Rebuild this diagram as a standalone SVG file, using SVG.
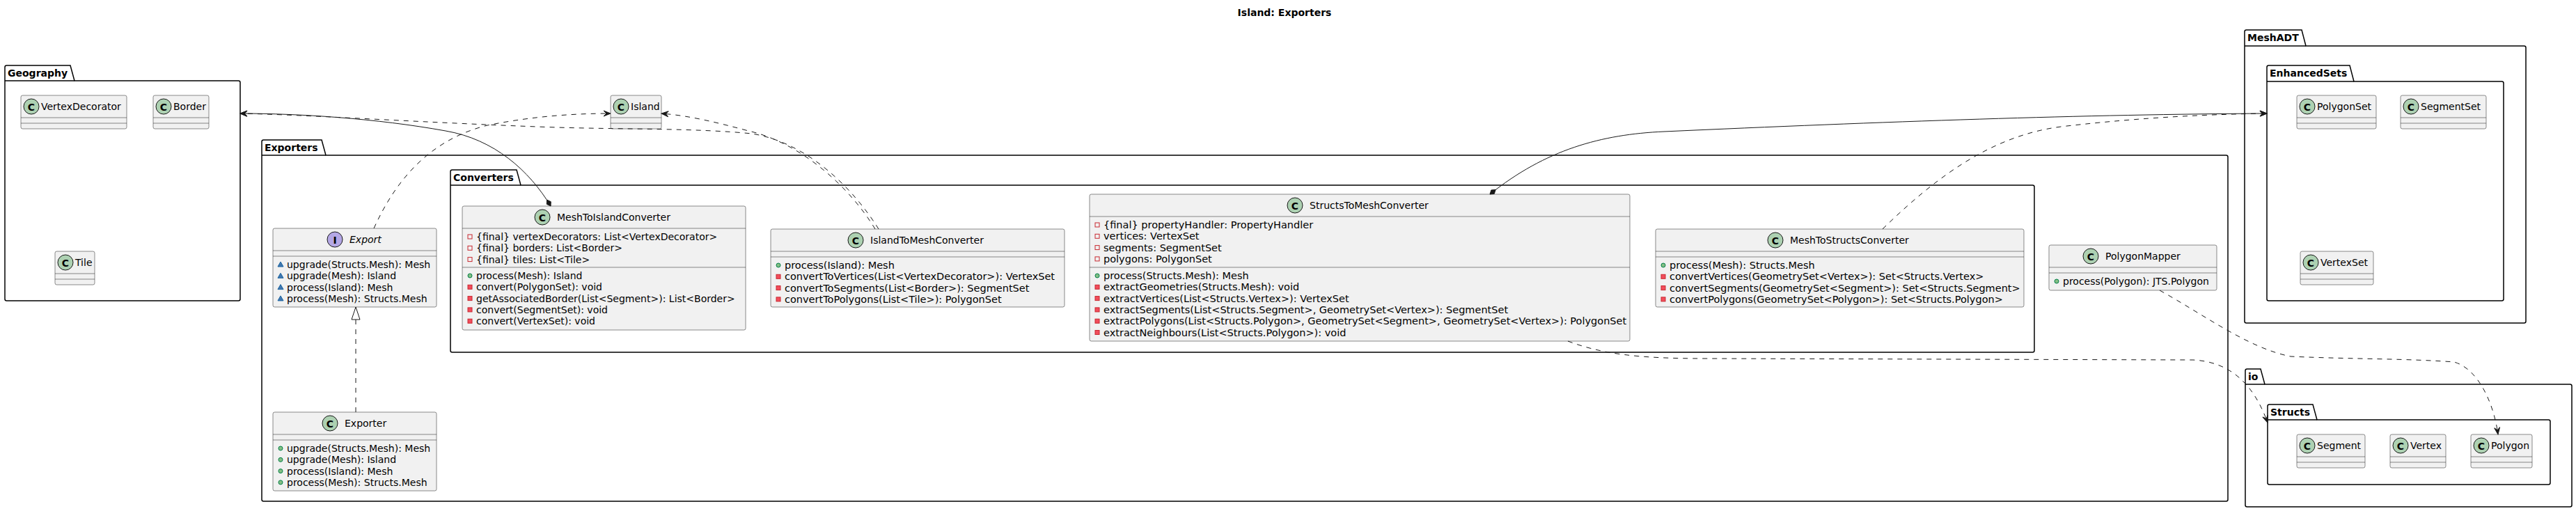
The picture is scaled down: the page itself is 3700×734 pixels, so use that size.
<svg xmlns="http://www.w3.org/2000/svg" width="3700" height="734" viewBox="0 0 3700 734">
<style>
.t{font-family:"DejaVu Sans","Liberation Sans",sans-serif;font-size:14px;fill:#000000}
.w{font-size:14.5px}
.b{font-weight:bold}
.it{font-style:italic}
.ic{font-family:"DejaVu Sans","Liberation Sans",sans-serif;font-size:14px;font-weight:bold;fill:#000000;text-anchor:middle}
.pkg{fill:none;stroke:#000000;stroke-width:1.5}
.cls{fill:#F1F1F1;stroke:#181818;stroke-width:0.5}
.dv{stroke:#181818;stroke-width:0.5}
.ci{fill:#ADD1B2;stroke:#181818;stroke-width:1}
.ii{fill:#B4A7E5;stroke:#181818;stroke-width:1}
.fp{fill:none;stroke:#C82930;stroke-width:1}
.mp{fill:#F24D5C;stroke:#C82930;stroke-width:1}
.pu{fill:#84BE84;stroke:#038048;stroke-width:1}
.pk{fill:#4177AF;stroke:#1963A0;stroke-width:1}
.ln{fill:none;stroke:#181818;stroke-width:1}
.da{stroke-dasharray:7,7}
</style>
<defs>
<marker id="arr" markerUnits="userSpaceOnUse" markerWidth="14" markerHeight="12" viewBox="-12 -6 14 12" refX="0" refY="0" orient="auto" overflow="visible">
<path d="M0,0 L-10,-4 L-6,0 L-10,4 Z" fill="#181818" stroke="#181818" stroke-width="1"/>
</marker>
<marker id="dia" markerUnits="userSpaceOnUse" markerWidth="14" markerHeight="12" viewBox="-14 -6 16 12" refX="0" refY="0" orient="auto-start-reverse" overflow="visible">
<path d="M0,0 L-6,-4 L-12,0 L-6,4 Z" fill="#181818" stroke="#181818" stroke-width="1"/>
</marker>
</defs>
<rect width="3700" height="734" fill="#FFFFFF"/>
<text class="t b" x="1845" y="23" text-anchor="middle">Island: Exporters</text>

<g id="packages">
<g id="pkg-Geography">
<path class="pkg" d="M9.5,94 L101,94 L107,116 L342.5,116 Q345,116 345,118.5 L345,429.5 Q345,432 342.5,432 L9.5,432 Q7,432 7,429.5 L7,96.5 Q7,94 9.5,94 Z"/>
<line class="pkg" x1="7" y1="116" x2="107" y2="116"/>
<text class="t b" x="11" y="110">Geography</text>
</g>
<g id="pkg-Exporters">
<path class="pkg" d="M378.5,201 L462,201 L468,223 L3197.5,223 Q3200,223 3200,225.5 L3200,717.5 Q3200,720 3197.5,720 L378.5,720 Q376,720 376,717.5 L376,203.5 Q376,201 378.5,201 Z"/>
<line class="pkg" x1="376" y1="223" x2="468" y2="223"/>
<text class="t b" x="380" y="217">Exporters</text>
</g>
<g id="pkg-Converters">
<path class="pkg" d="M649.5,244 L742,244 L748,266 L2919.5,266 Q2922,266 2922,268.5 L2922,503.5 Q2922,506 2919.5,506 L649.5,506 Q647,506 647,503.5 L647,246.5 Q647,244 649.5,244 Z"/>
<line class="pkg" x1="647" y1="266" x2="748" y2="266"/>
<text class="t b" x="651" y="260">Converters</text>
</g>
<g id="pkg-MeshADT">
<path class="pkg" d="M3226.5,43 L3306,43 L3312,66 L3625.5,66 Q3628,66 3628,68.5 L3628,461.5 Q3628,464 3625.5,464 L3226.5,464 Q3224,464 3224,461.5 L3224,45.5 Q3224,43 3226.5,43 Z"/>
<line class="pkg" x1="3224" y1="66" x2="3312" y2="66"/>
<text class="t b" x="3228" y="59">MeshADT</text>
</g>
<g id="pkg-EnhancedSets">
<path class="pkg" d="M3258.5,94 L3375,94 L3381,117 L3593.5,117 Q3596,117 3596,119.5 L3596,429.5 Q3596,432 3593.5,432 L3258.5,432 Q3256,432 3256,429.5 L3256,96.5 Q3256,94 3258.5,94 Z"/>
<line class="pkg" x1="3256" y1="117" x2="3381" y2="117"/>
<text class="t b" x="3260" y="110">EnhancedSets</text>
</g>
<g id="pkg-io">
<path class="pkg" d="M3227.5,530 L3247,530 L3253,552 L3691.5,552 Q3694,552 3694,554.5 L3694,725.5 Q3694,728 3691.5,728 L3227.5,728 Q3225,728 3225,725.5 L3225,532.5 Q3225,530 3227.5,530 Z"/>
<line class="pkg" x1="3225" y1="552" x2="3253" y2="552"/>
<text class="t b" x="3229" y="546">io</text>
</g>
<g id="pkg-Structs">
<path class="pkg" d="M3259.5,581 L3322,581 L3328,603 L3660.5,603 Q3663,603 3663,605.5 L3663,693.5 Q3663,696 3660.5,696 L3259.5,696 Q3257,696 3257,693.5 L3257,583.5 Q3257,581 3259.5,581 Z"/>
<line class="pkg" x1="3257" y1="603" x2="3328" y2="603"/>
<text class="t b" x="3261" y="597">Structs</text>
</g>
</g>

<g id="VertexDecorator">
<rect class="cls" x="30" y="137" width="152" height="48" rx="2.5"/>
<circle class="ci" cx="45" cy="153" r="11"/><text class="ic" x="45" y="158.5">C</text>
<text class="t" x="59" y="158">VertexDecorator</text>
<line class="dv" x1="30" y1="169" x2="182" y2="169"/><line class="dv" x1="30" y1="177" x2="182" y2="177"/>
</g>
<g id="Border">
<rect class="cls" x="220" y="137" width="80" height="48" rx="2.5"/>
<circle class="ci" cx="235" cy="153" r="11"/><text class="ic" x="235" y="158.5">C</text>
<text class="t" x="249" y="158">Border</text>
<line class="dv" x1="220" y1="169" x2="300" y2="169"/><line class="dv" x1="220" y1="177" x2="300" y2="177"/>
</g>
<g id="Tile">
<rect class="cls" x="79" y="361" width="57" height="48" rx="2.5"/>
<circle class="ci" cx="94" cy="377" r="11"/><text class="ic" x="94" y="382.5">C</text>
<text class="t" x="108" y="382">Tile</text>
<line class="dv" x1="79" y1="393" x2="136" y2="393"/><line class="dv" x1="79" y1="401" x2="136" y2="401"/>
</g>
<g id="Island">
<rect class="cls" x="877" y="137" width="73" height="48" rx="2.5"/>
<circle class="ci" cx="892" cy="153" r="11"/><text class="ic" x="892" y="158.5">C</text>
<text class="t" x="906" y="158">Island</text>
<line class="dv" x1="877" y1="169" x2="950" y2="169"/><line class="dv" x1="877" y1="177" x2="950" y2="177"/>
</g>

<g id="Export">
<rect class="cls" x="392" y="328" width="235" height="113" rx="2.5"/>
<circle class="ii" cx="481" cy="344" r="11"/><text class="ic" x="481" y="349.5">I</text>
<text class="t it" x="502" y="349">Export</text>
<line class="dv" x1="392" y1="360" x2="627" y2="360"/><line class="dv" x1="392" y1="368" x2="627" y2="368"/>
<polygon class="pk" points="403,376 407,383 399,383"/><text class="t" x="412" y="385">upgrade(Structs.Mesh): Mesh</text>
<polygon class="pk" points="403,392.3 407,399.3 399,399.3"/><text class="t" x="412" y="401.3">upgrade(Mesh): Island</text>
<polygon class="pk" points="403,408.6 407,415.6 399,415.6"/><text class="t" x="412" y="417.6">process(Island): Mesh</text>
<polygon class="pk" points="403,424.9 407,431.9 399,431.9"/><text class="t" x="412" y="433.9">process(Mesh): Structs.Mesh</text>
</g>
<g id="Exporter">
<rect class="cls" x="392" y="592" width="235" height="113" rx="2.5"/>
<circle class="ci" cx="474" cy="608" r="11"/><text class="ic" x="474" y="613.5">C</text>
<text class="t" x="495" y="613">Exporter</text>
<line class="dv" x1="392" y1="624" x2="627" y2="624"/><line class="dv" x1="392" y1="632" x2="627" y2="632"/>
<circle class="pu" cx="403" cy="644" r="3"/><text class="t" x="412" y="649">upgrade(Structs.Mesh): Mesh</text>
<circle class="pu" cx="403" cy="660.3" r="3"/><text class="t" x="412" y="665.3">upgrade(Mesh): Island</text>
<circle class="pu" cx="403" cy="676.6" r="3"/><text class="t" x="412" y="681.6">process(Island): Mesh</text>
<circle class="pu" cx="403" cy="692.9" r="3"/><text class="t" x="412" y="697.9">process(Mesh): Structs.Mesh</text>
</g>

<g id="MeshToIslandConverter">
<rect class="cls" x="664" y="296" width="407" height="178" rx="2.5"/>
<circle class="ci" cx="779" cy="312" r="11"/><text class="ic" x="779" y="317.5">C</text>
<text class="t" x="800" y="317">MeshToIslandConverter</text>
<line class="dv" x1="664" y1="328" x2="1071" y2="328"/>
<rect class="fp" x="672" y="337" width="6" height="6"/><text class="t" x="684" y="345">{final} vertexDecorators: List&lt;VertexDecorator&gt;</text>
<rect class="fp" x="672" y="353.3" width="6" height="6"/><text class="t" x="684" y="361.3">{final} borders: List&lt;Border&gt;</text>
<rect class="fp" x="672" y="369.6" width="6" height="6"/><text class="t" x="684" y="377.6">{final} tiles: List&lt;Tile&gt;</text>
<line class="dv" x1="664" y1="384" x2="1071" y2="384"/>
<circle class="pu" cx="675" cy="396" r="3"/><text class="t" x="684" y="401">process(Mesh): Island</text>
<rect class="mp" x="672" y="409.3" width="6" height="6"/><text class="t" x="684" y="417.3">convert(PolygonSet): void</text>
<rect class="mp" x="672" y="425.6" width="6" height="6"/><text class="t" x="684" y="433.6">getAssociatedBorder(List&lt;Segment&gt;): List&lt;Border&gt;</text>
<rect class="mp" x="672" y="441.9" width="6" height="6"/><text class="t" x="684" y="449.9">convert(SegmentSet): void</text>
<rect class="mp" x="672" y="458.2" width="6" height="6"/><text class="t" x="684" y="466.2">convert(VertexSet): void</text>
</g>

<g id="IslandToMeshConverter">
<rect class="cls" x="1107" y="329" width="422" height="112" rx="2.5"/>
<circle class="ci" cx="1229" cy="345" r="11"/><text class="ic" x="1229" y="350.5">C</text>
<text class="t" x="1250" y="350">IslandToMeshConverter</text>
<line class="dv" x1="1107" y1="361" x2="1529" y2="361"/><line class="dv" x1="1107" y1="369" x2="1529" y2="369"/>
<circle class="pu" cx="1118" cy="381" r="3"/><text class="t w" x="1127" y="386">process(Island): Mesh</text>
<rect class="mp" x="1115" y="394.3" width="6" height="6"/><text class="t w" x="1127" y="402.3">convertToVertices(List&lt;VertexDecorator&gt;): VertexSet</text>
<rect class="mp" x="1115" y="410.6" width="6" height="6"/><text class="t w" x="1127" y="418.6">convertToSegments(List&lt;Border&gt;): SegmentSet</text>
<rect class="mp" x="1115" y="426.9" width="6" height="6"/><text class="t w" x="1127" y="434.9">convertToPolygons(List&lt;Tile&gt;): PolygonSet</text>
</g>

<g id="StructsToMeshConverter">
<rect class="cls" x="1565" y="279" width="776" height="211" rx="2.5"/>
<circle class="ci" cx="1860" cy="295" r="11"/><text class="ic" x="1860" y="300.5">C</text>
<text class="t" x="1881" y="300">StructsToMeshConverter</text>
<line class="dv" x1="1565" y1="311" x2="2341" y2="311"/>
<rect class="fp" x="1573" y="320" width="6" height="6"/><text class="t w" x="1585" y="328">{final} propertyHandler: PropertyHandler</text>
<rect class="fp" x="1573" y="336.3" width="6" height="6"/><text class="t w" x="1585" y="344.3">vertices: VertexSet</text>
<rect class="fp" x="1573" y="352.6" width="6" height="6"/><text class="t w" x="1585" y="360.6">segments: SegmentSet</text>
<rect class="fp" x="1573" y="368.9" width="6" height="6"/><text class="t w" x="1585" y="376.9">polygons: PolygonSet</text>
<line class="dv" x1="1565" y1="384" x2="2341" y2="384"/>
<circle class="pu" cx="1576" cy="396" r="3"/><text class="t w" x="1585" y="401">process(Structs.Mesh): Mesh</text>
<rect class="mp" x="1573" y="409.3" width="6" height="6"/><text class="t w" x="1585" y="417.3">extractGeometries(Structs.Mesh): void</text>
<rect class="mp" x="1573" y="425.6" width="6" height="6"/><text class="t w" x="1585" y="433.6">extractVertices(List&lt;Structs.Vertex&gt;): VertexSet</text>
<rect class="mp" x="1573" y="441.9" width="6" height="6"/><text class="t w" x="1585" y="449.9">extractSegments(List&lt;Structs.Segment&gt;, GeometrySet&lt;Vertex&gt;): SegmentSet</text>
<rect class="mp" x="1573" y="458.2" width="6" height="6"/><text class="t w" x="1585" y="466.2">extractPolygons(List&lt;Structs.Polygon&gt;, GeometrySet&lt;Segment&gt;, GeometrySet&lt;Vertex&gt;): PolygonSet</text>
<rect class="mp" x="1573" y="474.5" width="6" height="6"/><text class="t w" x="1585" y="482.5">extractNeighbours(List&lt;Structs.Polygon&gt;): void</text>
</g>

<g id="MeshToStructsConverter">
<rect class="cls" x="2378" y="329" width="529" height="112" rx="2.5"/>
<circle class="ci" cx="2550" cy="345" r="11"/><text class="ic" x="2550" y="350.5">C</text>
<text class="t" x="2571" y="350">MeshToStructsConverter</text>
<line class="dv" x1="2378" y1="361" x2="2907" y2="361"/><line class="dv" x1="2378" y1="369" x2="2907" y2="369"/>
<circle class="pu" cx="2389" cy="381" r="3"/><text class="t w" x="2398" y="386">process(Mesh): Structs.Mesh</text>
<rect class="mp" x="2386" y="394.3" width="6" height="6"/><text class="t w" x="2398" y="402.3">convertVertices(GeometrySet&lt;Vertex&gt;): Set&lt;Structs.Vertex&gt;</text>
<rect class="mp" x="2386" y="410.6" width="6" height="6"/><text class="t w" x="2398" y="418.6">convertSegments(GeometrySet&lt;Segment&gt;): Set&lt;Structs.Segment&gt;</text>
<rect class="mp" x="2386" y="426.9" width="6" height="6"/><text class="t w" x="2398" y="434.9">convertPolygons(GeometrySet&lt;Polygon&gt;): Set&lt;Structs.Polygon&gt;</text>
</g>

<g id="PolygonMapper">
<rect class="cls" x="2943" y="352" width="241" height="65" rx="2.5"/>
<circle class="ci" cx="3003" cy="368" r="11"/><text class="ic" x="3003" y="373.5">C</text>
<text class="t" x="3024" y="373">PolygonMapper</text>
<line class="dv" x1="2943" y1="384" x2="3184" y2="384"/><line class="dv" x1="2943" y1="392" x2="3184" y2="392"/>
<circle class="pu" cx="2954" cy="404" r="3"/><text class="t" x="2963" y="409">process(Polygon): JTS.Polygon</text>
</g>

<g id="PolygonSet">
<rect class="cls" x="3299" y="137" width="114" height="48" rx="2.5"/>
<circle class="ci" cx="3314" cy="153" r="11"/><text class="ic" x="3314" y="158.5">C</text>
<text class="t" x="3328" y="158">PolygonSet</text>
<line class="dv" x1="3299" y1="169" x2="3413" y2="169"/><line class="dv" x1="3299" y1="177" x2="3413" y2="177"/>
</g>
<g id="SegmentSet">
<rect class="cls" x="3448" y="137" width="123" height="48" rx="2.5"/>
<circle class="ci" cx="3463" cy="153" r="11"/><text class="ic" x="3463" y="158.5">C</text>
<text class="t" x="3477" y="158">SegmentSet</text>
<line class="dv" x1="3448" y1="169" x2="3571" y2="169"/><line class="dv" x1="3448" y1="177" x2="3571" y2="177"/>
</g>
<g id="VertexSet">
<rect class="cls" x="3304" y="361" width="105" height="48" rx="2.5"/>
<circle class="ci" cx="3319" cy="377" r="11"/><text class="ic" x="3319" y="382.5">C</text>
<text class="t" x="3333" y="382">VertexSet</text>
<line class="dv" x1="3304" y1="393" x2="3409" y2="393"/><line class="dv" x1="3304" y1="401" x2="3409" y2="401"/>
</g>
<g id="Segment">
<rect class="cls" x="3299" y="624" width="98" height="48" rx="2.5"/>
<circle class="ci" cx="3314" cy="640" r="11"/><text class="ic" x="3314" y="645.5">C</text>
<text class="t" x="3328" y="645">Segment</text>
<line class="dv" x1="3299" y1="656" x2="3397" y2="656"/><line class="dv" x1="3299" y1="664" x2="3397" y2="664"/>
</g>
<g id="Vertex">
<rect class="cls" x="3433" y="624" width="80" height="48" rx="2.5"/>
<circle class="ci" cx="3448" cy="640" r="11"/><text class="ic" x="3448" y="645.5">C</text>
<text class="t" x="3462" y="645">Vertex</text>
<line class="dv" x1="3433" y1="656" x2="3513" y2="656"/><line class="dv" x1="3433" y1="664" x2="3513" y2="664"/>
</g>
<g id="Polygon">
<rect class="cls" x="3549" y="624" width="88" height="48" rx="2.5"/>
<circle class="ci" cx="3564" cy="640" r="11"/><text class="ic" x="3564" y="645.5">C</text>
<text class="t" x="3578" y="645">Polygon</text>
<line class="dv" x1="3549" y1="656" x2="3637" y2="656"/><line class="dv" x1="3549" y1="664" x2="3637" y2="664"/>
</g>

<g id="connectors">
<path class="ln da" marker-end="url(#arr)" d="M537,328 C570,255 620,200 700,180 C770,166 830,163 877,163"/>
<path class="ln da" d="M511,592 L511,459"/>
<polygon points="511,441 505,459 517,459" fill="#FFFFFF" stroke="#181818" stroke-width="1"/>
<path class="ln" marker-start="url(#dia)" marker-end="url(#arr)" d="M791,296 C760,245 710,200 640,188 C540,170 430,163 345,163"/>
<path class="ln da" marker-end="url(#arr)" d="M1262,329 C1225,270 1160,205 1080,192 C1000,184 900,186 800,183 C620,177 450,165 345,163"/>
<path class="ln da" marker-end="url(#arr)" d="M1257,329 C1220,268 1150,205 1075,188 C1030,176 990,166 950,163"/>
<path class="ln" marker-start="url(#dia)" marker-end="url(#arr)" d="M2140,279 C2220,215 2300,193 2390,189 C2700,175 3000,164 3256,163"/>
<path class="ln da" marker-end="url(#arr)" d="M2704,329 C2780,255 2860,195 2960,182 C3080,168 3180,164 3256,163"/>
<path class="ln da" marker-end="url(#arr)" d="M2252,490 C2300,508 2350,515 2450,515 L3150,517 C3210,520 3240,560 3257,607"/>
<path class="ln da" marker-end="url(#arr)" d="M3102,417 C3170,455 3230,500 3290,512 C3380,516 3460,515 3525,520 C3560,530 3582,580 3588,624"/>
</g>
</svg>
